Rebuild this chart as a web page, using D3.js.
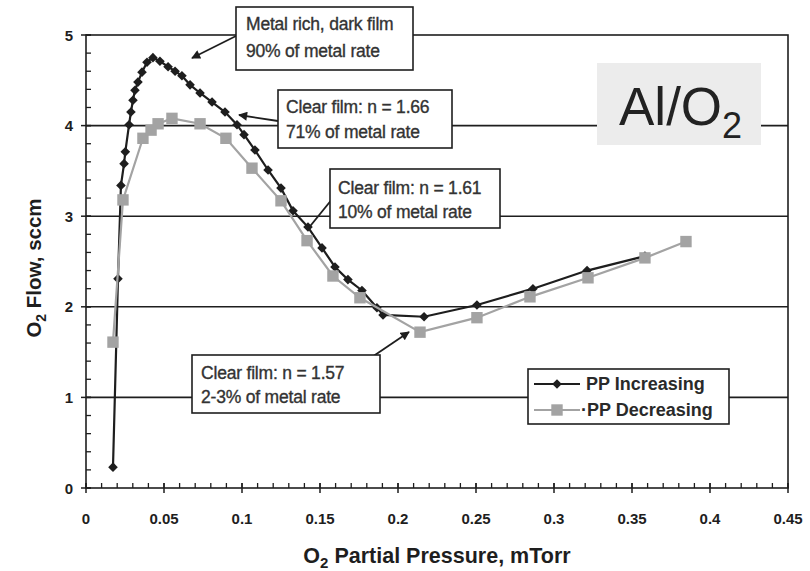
<!DOCTYPE html>
<html>
<head>
<meta charset="utf-8">
<script src="https://cdn.jsdelivr.net/npm/d3@7/dist/d3.min.js"></script>
<style>
  html, body { margin: 0; padding: 0; background: #fff; }
  svg { display: block; }
  text { font-family: "Liberation Sans", Arial, sans-serif; }
</style>
</head>
<body>
<svg id="chart" width="810" height="571"></svg>
<script>
// ---- data ----
const incX = [0.0173, 0.0205, 0.0224, 0.0244, 0.0252, 0.0276, 0.0288, 0.0301, 0.0314, 0.0333,
              0.0359, 0.0391, 0.0429, 0.0474, 0.0526, 0.0571, 0.0615, 0.0667, 0.0731, 0.0808,
              0.0891, 0.0968, 0.1013, 0.1083, 0.1167, 0.1250, 0.1327, 0.1423, 0.1513, 0.1596,
              0.1679, 0.1769, 0.1865, 0.1904, 0.2167, 0.2506, 0.2865, 0.3212, 0.3583];
const incY = [0.23, 2.31, 3.34, 3.58, 3.71, 4.01, 4.15, 4.28, 4.39, 4.48,
              4.59, 4.70, 4.75, 4.71, 4.65, 4.60, 4.55, 4.45, 4.36, 4.26,
              4.15, 4.01, 3.90, 3.73, 3.51, 3.31, 3.06, 2.88, 2.65, 2.44,
              2.30, 2.18, 1.99, 1.91, 1.89, 2.02, 2.20, 2.40, 2.56];
const decX = [0.0173, 0.0237, 0.0365, 0.0417, 0.0462, 0.0551, 0.0731, 0.0897, 0.1064, 0.1250,
              0.1417, 0.1583, 0.1756, 0.2141, 0.2506, 0.2846, 0.3218, 0.3583, 0.3846];
const decY = [1.61, 3.18, 3.86, 3.95, 4.02, 4.08, 4.02, 3.86, 3.53, 3.17,
              2.73, 2.34, 2.10, 1.72, 1.88, 2.11, 2.32, 2.54, 2.72];
const xTicks = [0, 0.05, 0.1, 0.15, 0.2, 0.25, 0.3, 0.35, 0.4, 0.45];
const xTickLabels = ["0", "0.05", "0.1", "0.15", "0.2", "0.25", "0.3", "0.35", "0.4", "0.45"];
const yTicks = [0, 1, 2, 3, 4, 5];
const seriesNames = ["PP Increasing", "\u00B7PP Decreasing"];
const notes = [
  ["Metal rich, dark film", "90% of metal rate"],
  ["Clear film: n = 1.66", "71% of metal rate"],
  ["Clear film: n = 1.61", "10% of metal rate"],
  ["Clear film: n = 1.57", "2-3% of metal rate"]
];

// ---- layout ----
const svg = d3.select("#chart");
const L = 86, R = 788, T = 35, B = 488;
const x = d3.scaleLinear().domain([0, 0.45]).range([L, R]);
const y = d3.scaleLinear().domain([0, 5]).range([B, T]);
const ink = "#1e1e1e";

const defs = svg.append("defs");
defs.append("marker").attr("id", "arr").attr("viewBox", "0 0 10 10")
  .attr("refX", 9).attr("refY", 5).attr("markerWidth", 10).attr("markerHeight", 9)
  .attr("markerUnits", "userSpaceOnUse").attr("orient", "auto")
  .append("path").attr("d", "M0,0 L10,5 L0,10 z").attr("fill", ink);

// gridlines
svg.append("g").selectAll("line").data([1, 2, 3, 4]).join("line")
  .attr("x1", L).attr("x2", R).attr("y1", d => y(d)).attr("y2", d => y(d))
  .attr("stroke", ink).attr("stroke-width", 1.6);

// frame
svg.append("rect").attr("x", L).attr("y", T).attr("width", R - L).attr("height", B - T)
  .attr("fill", "none").attr("stroke", ink).attr("stroke-width", 1.6);

// y ticks
const yMinor = d3.range(0, 5.001, 0.2);
svg.append("g").selectAll("line").data(yMinor).join("line")
  .attr("x1", L).attr("x2", L + 5).attr("y1", d => y(d)).attr("y2", d => y(d))
  .attr("stroke", ink).attr("stroke-width", 1.3);
svg.append("g").selectAll("line").data(yTicks).join("line")
  .attr("x1", L - 5).attr("x2", L + 5).attr("y1", d => y(d)).attr("y2", d => y(d))
  .attr("stroke", ink).attr("stroke-width", 1.5);
svg.append("g").selectAll("text").data(yTicks).join("text")
  .attr("x", L - 13).attr("y", d => y(d) + 5.5).attr("text-anchor", "end")
  .attr("font-size", 15).attr("font-weight", "bold").attr("fill", ink).text(d => d);

// x ticks
const xMinor = d3.range(0, 0.4501, 0.01);
svg.append("g").selectAll("line").data(xMinor).join("line")
  .attr("x1", d => x(d)).attr("x2", d => x(d)).attr("y1", B).attr("y2", B - 5)
  .attr("stroke", ink).attr("stroke-width", 1.3);
svg.append("g").selectAll("line").data(xTicks).join("line")
  .attr("x1", d => x(d)).attr("x2", d => x(d)).attr("y1", B + 5).attr("y2", B - 5)
  .attr("stroke", ink).attr("stroke-width", 1.5);
svg.append("g").selectAll("text").data(xTicks).join("text")
  .attr("x", d => x(d)).attr("y", 524).attr("text-anchor", "middle")
  .attr("font-size", 15).attr("font-weight", "bold").attr("fill", ink)
  .text((d, i) => xTickLabels[i]);

// axis titles
const xt = svg.append("text").attr("x", 437).attr("y", 563).attr("text-anchor", "middle")
  .attr("font-size", 21.5).attr("font-weight", "bold").attr("fill", ink);
xt.append("tspan").text("O");
xt.append("tspan").attr("font-size", 15).attr("dy", 5).text("2");
xt.append("tspan").attr("dy", -5).text(" Partial Pressure, mTorr");

const yt = svg.append("text").attr("transform", "translate(41,268) rotate(-90)")
  .attr("text-anchor", "middle").attr("font-size", 20.5).attr("font-weight", "bold").attr("fill", ink);
yt.append("tspan").text("O");
yt.append("tspan").attr("font-size", 14).attr("dy", 5).text("2");
yt.append("tspan").attr("dy", -5).text(" Flow, sccm");

// series
const inc = incX.map((v, i) => [v, incY[i]]);
const dec = decX.map((v, i) => [v, decY[i]]);
const line = d3.line().x(d => x(d[0])).y(d => y(d[1]));
const grey = "#a3a3a3";

svg.append("path").datum(inc).attr("d", line).attr("fill", "none")
  .attr("stroke", ink).attr("stroke-width", 2.2);
const diamond = d3.symbol().type(d3.symbolSquare).size(46);
svg.append("g").selectAll("path").data(inc).join("path")
  .attr("d", diamond).attr("transform", d => `translate(${x(d[0])},${y(d[1])}) rotate(45)`)
  .attr("fill", ink);

svg.append("path").datum(dec).attr("d", line).attr("fill", "none")
  .attr("stroke", grey).attr("stroke-width", 2.2);
const square = d3.symbol().type(d3.symbolSquare).size(130);
svg.append("g").selectAll("path").data(dec).join("path")
  .attr("d", square).attr("transform", d => `translate(${x(d[0])},${y(d[1])})`)
  .attr("fill", grey);

// annotation boxes
const boxes = [
  {x: 236, y: 7, w: 177, h: 63, tx: 246, b1: 30, b2: 57},
  {x: 278, y: 90, w: 174, h: 58, tx: 286, b1: 113, b2: 138},
  {x: 330, y: 169, w: 170, h: 59, tx: 338, b1: 194, b2: 218},
  {x: 192, y: 355, w: 188, h: 58, tx: 201, b1: 379, b2: 403}
];
const arrows = [
  {x1: 236, y1: 36, x2: 192, y2: 58, head: true},
  {x1: 278, y1: 121, x2: 239, y2: 115, head: true},
  {x1: 333, y1: 198, x2: 307, y2: 230, head: false},
  {x1: 372, y1: 357, x2: 409, y2: 332, head: true}
];
svg.append("g").selectAll("line").data(arrows).join("line")
  .attr("x1", d => d.x1).attr("y1", d => d.y1).attr("x2", d => d.x2).attr("y2", d => d.y2)
  .attr("stroke", ink).attr("stroke-width", 1.8)
  .attr("marker-end", d => d.head ? "url(#arr)" : null);

const bg = svg.append("g").selectAll("g").data(boxes).join("g");
bg.append("rect").attr("x", d => d.x).attr("y", d => d.y).attr("width", d => d.w).attr("height", d => d.h)
  .attr("fill", "#fff").attr("stroke", ink).attr("stroke-width", 1.6);
const noteStyle = s => s.attr("font-size", 17.5).attr("fill", "#333")
  .attr("stroke", "#333").attr("stroke-width", 0.35).attr("letter-spacing", -0.2);
bg.append("text").attr("x", d => d.tx).attr("y", d => d.b1).call(noteStyle)
  .text((d, i) => notes[i][0]);
bg.append("text").attr("x", d => d.tx).attr("y", d => d.b2).call(noteStyle)
  .text((d, i) => notes[i][1]);

// legend
const lg = svg.append("g");
lg.append("rect").attr("x", 528).attr("y", 369).attr("width", 201).attr("height", 55)
  .attr("fill", "#fff").attr("stroke", ink).attr("stroke-width", 1.6);
lg.append("line").attr("x1", 534).attr("x2", 580).attr("y1", 384).attr("y2", 384)
  .attr("stroke", ink).attr("stroke-width", 2.2);
lg.append("path").attr("d", diamond).attr("transform", "translate(557,384) rotate(45)").attr("fill", ink);
lg.append("line").attr("x1", 534).attr("x2", 580).attr("y1", 410).attr("y2", 410)
  .attr("stroke", grey).attr("stroke-width", 2.2);
lg.append("path").attr("d", square).attr("transform", "translate(557,410)").attr("fill", grey);
lg.append("text").attr("x", 586).attr("y", 390).attr("font-size", 18).attr("font-weight", "bold")
  .attr("fill", "#2a2a2a").text(seriesNames[0]);
lg.append("text").attr("x", 581).attr("y", 416).attr("font-size", 18).attr("font-weight", "bold")
  .attr("fill", "#2a2a2a").text(seriesNames[1]);

// Al/O2 label
svg.append("rect").attr("x", 597).attr("y", 63).attr("width", 164).attr("height", 82).attr("fill", "#ececec");
const al = svg.append("text").attr("x", 619).attr("y", 125)
  .attr("font-family", "'Open Sans', 'Noto Sans', sans-serif").attr("font-size", 53).attr("fill", "#222");
al.append("tspan").text("Al/O");
al.append("tspan").attr("font-size", 36).attr("dy", 13).text("2");
</script>
</body>
</html>
